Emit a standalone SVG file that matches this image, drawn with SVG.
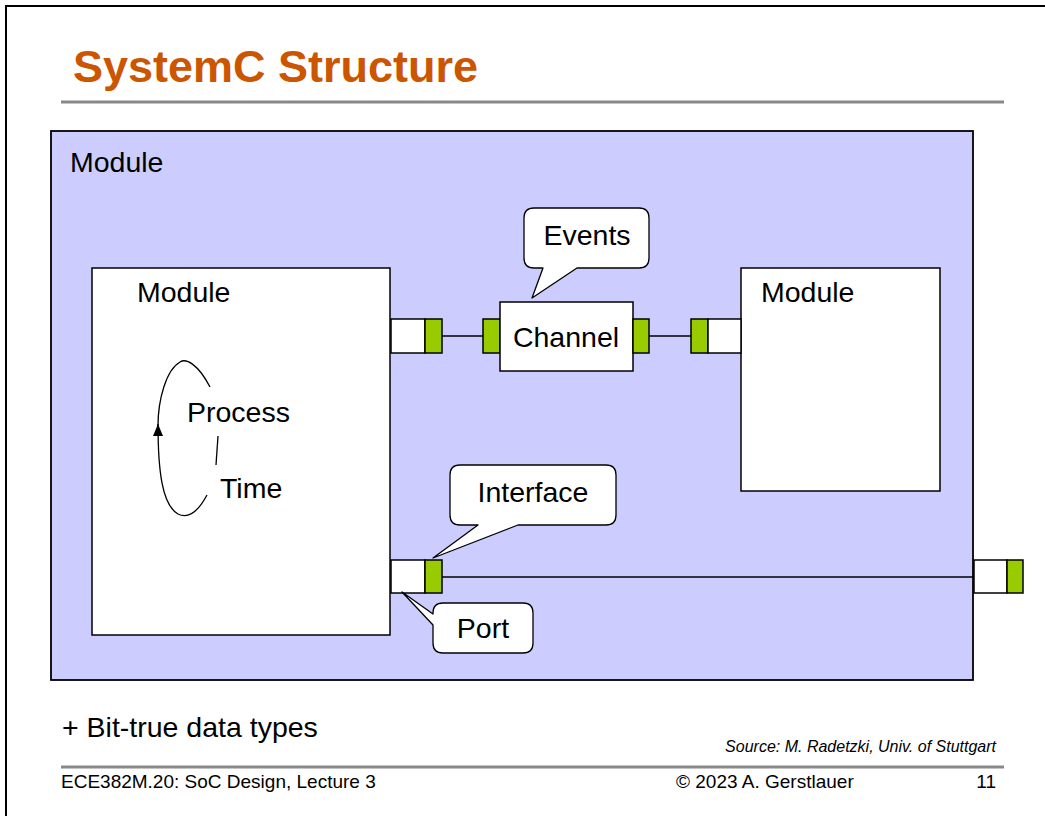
<svg xmlns="http://www.w3.org/2000/svg" width="1045" height="816" viewBox="0 0 1045 816">
  <style>
    .lbl { font-family: "Liberation Sans", Arial, sans-serif; font-size: 28.5px; fill: #000; }
    .box { fill: #fff; stroke: #000; stroke-width: 1.5; }
    .port { fill: #fff; stroke: #000; stroke-width: 1.5; }
    .ifc { fill: #99CC00; stroke: #000; stroke-width: 1.5; }
    .wire { stroke: #000; stroke-width: 1.3; fill: none; }
    .call { fill: #fff; stroke: #000; stroke-width: 1.3; stroke-linejoin: round; }
    .foot { font-family: "Liberation Sans", Arial, sans-serif; font-size: 19px; fill: #000; }
  </style>
  <defs>
    <marker id="arrow" markerWidth="12" markerHeight="10" refX="12" refY="5" orient="auto" markerUnits="userSpaceOnUse" viewBox="0 0 12 10">
      <path d="M0,0 L12,5 L0,10 Z" fill="#000"/>
    </marker>
  </defs>

  <!-- page -->
  <rect x="0" y="0" width="1045" height="816" fill="#fff"/>
  <rect x="6" y="6" width="1100" height="900" fill="none" stroke="#000" stroke-width="2"/>

  <!-- title -->
  <text x="73" y="82" font-family="'Liberation Sans', Arial, sans-serif" font-size="45" font-weight="bold" fill="#CC5500">SystemC Structure</text>
  <line x1="61" y1="102" x2="1004" y2="102" stroke="#888" stroke-width="3"/>

  <!-- top-level module -->
  <g id="top-module">
    <rect x="51" y="131" width="922" height="549" fill="#CCCCFF" stroke="#000" stroke-width="1.8"/>
    <text class="lbl" x="70" y="172">Module</text>
  </g>

  <!-- connectors -->
  <g id="connectors">
    <line class="wire" x1="442" y1="336" x2="483" y2="336"/>
    <line class="wire" x1="649" y1="336" x2="691" y2="336"/>
    <line class="wire" x1="442" y1="577" x2="974" y2="577"/>
  </g>

  <!-- left module with process -->
  <g id="module-left">
    <rect class="box" x="92" y="268" width="298" height="367"/>
    <text class="lbl" x="137" y="302">Module</text>
    <g id="process">
      <!-- loop runs up the left side, back over the top -->
      <path class="wire" d="M207,495 C200,508 190,520 178,514 C162,505 158,470 158,424" marker-end="url(#arrow)"/>
      <path class="wire" d="M158,426 C158,400 166,370 180,362 C186,358 198,364 210,387"/>
      <line class="wire" x1="218" y1="436" x2="216" y2="465"/>
      <text class="lbl" x="187" y="422">Process</text>
      <text class="lbl" x="220" y="498">Time</text>
    </g>
  </g>

  <!-- ports of left module -->
  <g id="port-left-top">
    <rect class="port" x="391" y="319" width="34" height="34"/>
    <rect class="ifc" x="425" y="319" width="17" height="34"/>
  </g>
  <g id="port-left-bottom">
    <rect class="port" x="391" y="560" width="34" height="33"/>
    <rect class="ifc" x="425" y="560" width="17" height="33"/>
  </g>

  <!-- channel -->
  <g id="channel">
    <rect class="ifc" x="483" y="319" width="17" height="34"/>
    <rect class="box" x="500" y="302" width="133" height="69"/>
    <rect class="ifc" x="633" y="319" width="16" height="34"/>
    <text class="lbl" x="566" y="347" text-anchor="middle">Channel</text>
  </g>

  <!-- right module -->
  <g id="module-right">
    <rect class="box" x="741" y="268" width="199" height="223"/>
    <text class="lbl" x="761" y="302">Module</text>
  </g>
  <g id="port-right">
    <rect class="ifc" x="691" y="319" width="17" height="34"/>
    <rect class="port" x="708" y="319" width="33" height="34"/>
  </g>

  <!-- boundary port of top-level module -->
  <g id="port-outer">
    <rect class="port" x="974" y="560" width="33" height="33"/>
    <rect class="ifc" x="1007" y="560" width="16" height="33"/>
  </g>

  <!-- callouts -->
  <g id="callout-events">
    <path class="call" d="M534,208 H639 Q649,208 649,218 V258 Q649,268 639,268 H577 L532,298 L543,268 H534 Q524,268 524,258 V218 Q524,208 534,208 Z"/>
    <text class="lbl" x="587" y="245" text-anchor="middle">Events</text>
  </g>
  <g id="callout-interface">
    <path class="call" d="M460,465 H606 Q616,465 616,475 V515 Q616,525 606,525 H518 L433,558 L478,525 H460 Q450,525 450,515 V475 Q450,465 460,465 Z"/>
    <text class="lbl" x="533" y="502" text-anchor="middle">Interface</text>
  </g>
  <g id="callout-port">
    <path class="call" d="M443,603 H523 Q533,603 533,613 V643 Q533,653 523,653 H443 Q433,653 433,643 V625 L402,592 L433,614 V613 Q433,603 443,603 Z"/>
    <text class="lbl" x="483" y="638" text-anchor="middle">Port</text>
  </g>

  <!-- notes and footer -->
  <text class="lbl" x="62" y="737" font-size="29">+ Bit-true data types</text>
  <text x="996" y="752" text-anchor="end" font-family="'Liberation Sans', Arial, sans-serif" font-size="16" font-style="italic" fill="#000">Source: M. Radetzki, Univ. of Stuttgart</text>
  <line x1="61" y1="767" x2="1004" y2="767" stroke="#888" stroke-width="3"/>
  <text class="foot" x="61" y="788">ECE382M.20: SoC Design, Lecture 3</text>
  <text class="foot" x="676" y="788" font-size="18.5">© 2023 A. Gerstlauer</text>
  <text class="foot" x="996" y="788" text-anchor="end">11</text>
</svg>
